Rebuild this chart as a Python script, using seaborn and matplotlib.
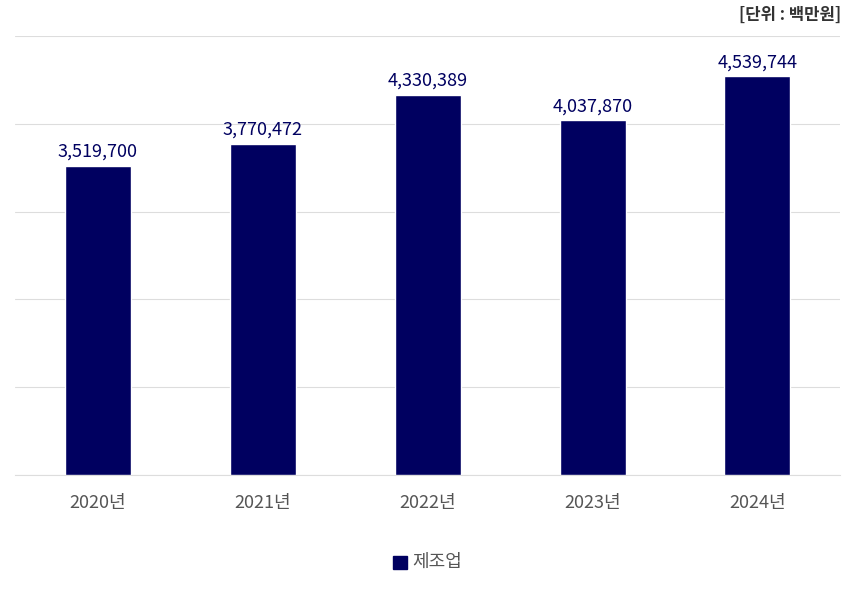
import matplotlib
matplotlib.use("Agg")
import matplotlib.pyplot as plt
import seaborn as sns
import pandas as pd

years = ["2020년", "2021년", "2022년", "2023년", "2024년"]
values = [3519700, 3770472, 4330389, 4037870, 4539744]
series = "제조업"

sns.set_style("white")
plt.rcParams['font.family'] = ['Noto Sans CJK KR', 'DejaVu Sans']

df = pd.DataFrame({"year": years, "value": values, "series": series})
fig = plt.figure(figsize=(8.54, 5.9), dpi=100)
ax = fig.add_axes([0.0176, 0.195, 0.966, 0.744])
sns.barplot(data=df, x="year", y="value", hue="series", palette=["#000060"],
            width=0.4, ax=ax, legend=False, saturation=1, zorder=3)
ax.set_ylim(0, 5000000)
ax.set_xlim(-0.5, 4.5)
ax.set_yticks([0, 1e6, 2e6, 3e6, 4e6, 5e6])
ax.yaxis.grid(True, color="#dddddd", linewidth=0.8, zorder=0)
ax.set_yticklabels([])
ax.tick_params(axis="y", length=0)
ax.tick_params(axis="x", length=0, labelsize=13, colors="#555555", pad=14)
for s in ["top", "right", "left"]:
    ax.spines[s].set_visible(False)
ax.spines["bottom"].set_color("#dddddd")
ax.set_xlabel("")
ax.set_ylabel("")
for i, v in enumerate(values):
    ax.text(i, v + 60000, f"{v:,}", ha="center", va="bottom", fontsize=13, color="#000060")
fig.text(0.985, 0.975, "[단위 : 백만원]", ha="right", va="center", fontsize=12,
         fontweight="bold", color="#333333")
fig.patches.append(plt.Rectangle((0.46, 0.035), 0.016, 0.023, transform=fig.transFigure,
                                 color="#000060", figure=fig))
fig.text(0.483, 0.047, series, ha="left", va="center", fontsize=13, color="#555555")
fig.savefig("out.png", dpi=100)
